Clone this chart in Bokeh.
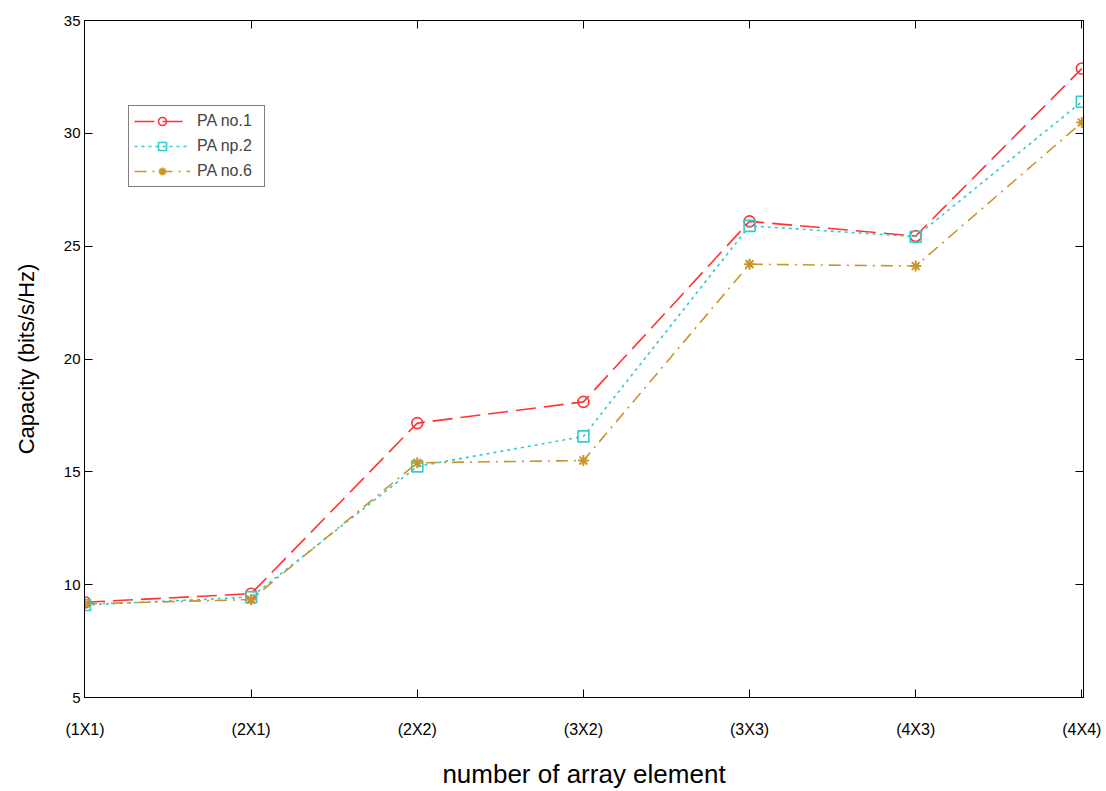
from bokeh.plotting import figure
from bokeh.models import Range1d, FixedTicker, LinearAxis, Legend, LegendItem
from bokeh.embed import file_html
from bokeh.resources import INLINE

categories = ["(1X1)", "(2X1)", "(2X2)", "(3X2)", "(3X3)", "(4X3)", "(4X4)"]
pa1 = [9.22, 9.6, 17.16, 18.1, 26.1, 25.45, 32.87]
pa2 = [9.1, 9.45, 15.24, 16.57, 25.9, 25.42, 31.4]
pa6 = [9.15, 9.34, 15.4, 15.5, 24.2, 24.12, 30.48]
y_ticks = [5, 10, 15, 20, 25, 30, 35]

xs = list(range(len(categories)))

p = figure(width=1106, height=791, output_backend="svg", toolbar_location=None,
           x_range=Range1d(-0.003, 6.01), y_range=Range1d(5, 35),
           min_border_left=84, min_border_right=23, min_border_top=20, min_border_bottom=94)
p.xgrid.visible = False
p.ygrid.visible = False
p.outline_line_color = "black"
p.outline_line_width = 1
p.background_fill_color = "white"
p.border_fill_color = "white"

p.xaxis.ticker = FixedTicker(ticks=xs)
p.xaxis.major_label_overrides = {i: c for i, c in enumerate(categories)}
p.yaxis.ticker = FixedTicker(ticks=y_ticks)
for ax in [p.xaxis[0], p.yaxis[0]]:
    ax.major_tick_in = 8
    ax.major_tick_out = 0
    ax.minor_tick_in = 0
    ax.minor_tick_out = 0
    ax.axis_line_color = "black"
    ax.major_tick_line_color = "black"
    ax.major_label_text_color = "black"
    ax.major_label_text_font = "Liberation Sans"
    ax.axis_label_text_font = "Liberation Sans"
    ax.axis_label_text_font_style = "normal"
    ax.axis_label_text_color = "black"

p.xaxis.major_label_text_font_size = "16px"
p.yaxis.major_label_text_font_size = "15px"
p.xaxis.major_label_standoff = 23
p.yaxis.major_label_standoff = 4
p.xaxis.axis_label = "number of array element"
p.yaxis.axis_label = "Capacity (bits/s/Hz)"
p.xaxis.axis_label_text_font_size = "26px"
p.yaxis.axis_label_text_font_size = "22px"
p.xaxis.axis_label_standoff = 18
p.yaxis.axis_label_standoff = 22

top = LinearAxis(ticker=FixedTicker(ticks=xs), major_tick_in=8, major_tick_out=0,
                 minor_tick_in=0, minor_tick_out=0, major_label_text_color=None,
                 major_label_standoff=0, axis_line_color="black")
right = LinearAxis(ticker=FixedTicker(ticks=y_ticks), major_tick_in=8,
                   major_tick_out=0, minor_tick_in=0, minor_tick_out=0,
                   major_label_text_color=None, major_label_standoff=0,
                   axis_line_color="black")
p.add_layout(top, "above")
p.add_layout(right, "right")

red = "#ff3333"
cyan = "#33cccc"
gold = "#c8952c"

l1 = p.line(xs, pa1, line_color=red, line_width=1.6, line_dash="20 8")
m1 = p.scatter(xs, pa1, marker="circle", size=11, fill_color=None, line_color=red, line_width=1.6)
l2 = p.line(xs, pa2, line_color=cyan, line_width=1.6, line_dash="3 4")
m2 = p.scatter(xs, pa2, marker="square", size=11, fill_color=None, line_color=cyan, line_width=1.6)
l3 = p.line(xs, pa6, line_color=gold, line_width=1.6, line_dash="12 6 2 6")
m3 = p.scatter(xs, pa6, marker="asterisk", size=11, line_color=gold, line_width=2)

legend = Legend(items=[LegendItem(label="PA no.1", renderers=[l1, m1]),
                       LegendItem(label="PA np.2", renderers=[l2, m2]),
                       LegendItem(label="PA no.6", renderers=[l3, m3])],
                location=(44, 510), border_line_color="black", border_line_width=1,
                label_text_font="Liberation Sans", label_text_font_size="16px",
                glyph_width=56, glyph_height=20, spacing=5, padding=5,
                label_standoff=7, label_width=62, margin=0, background_fill_alpha=1)
p.add_layout(legend, "center")

open("out.html", "w").write(file_html(p, INLINE))
